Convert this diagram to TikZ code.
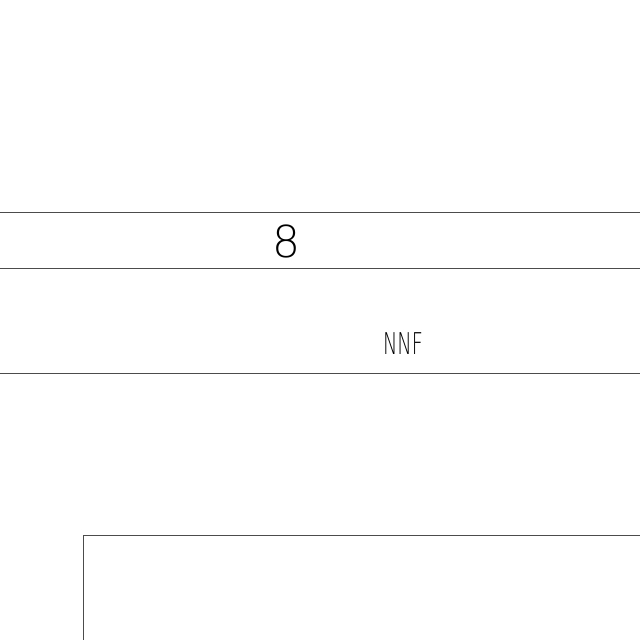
\documentclass[tikz,border=0pt]{standalone}
\usepackage{fontspec}
\setmainfont{DejaVu Sans}
\newfontfamily\thinfont{DejaVu Sans ExtraLight}
\usepackage{tikz}

\begin{document}
\begin{tikzpicture}[x=1pt,y=-1pt]
% frame of the sheet
\useasboundingbox (0,0) rectangle (640,640);
\clip (0,0) rectangle (640,640);
\tikzset{rule/.style={draw=black!70,line width=0.9pt}}
\draw [rule] (0,212) -- (640,212);
\draw [rule] (0,268) -- (640,268);
\draw [rule] (0,373) -- (640,373);
\draw [rule] (83,660) -- (83,535) -- (660,535);
\path (286,241) node (num) [inner sep=0pt,font=\thinfont\fontsize{44}{44}\selectfont] {8};
\path (403,344) node (nnf) [inner sep=0pt,xscale=0.64,font=\thinfont\fontsize{30}{30}\selectfont] {NNF};
\end{tikzpicture}
\end{document}
